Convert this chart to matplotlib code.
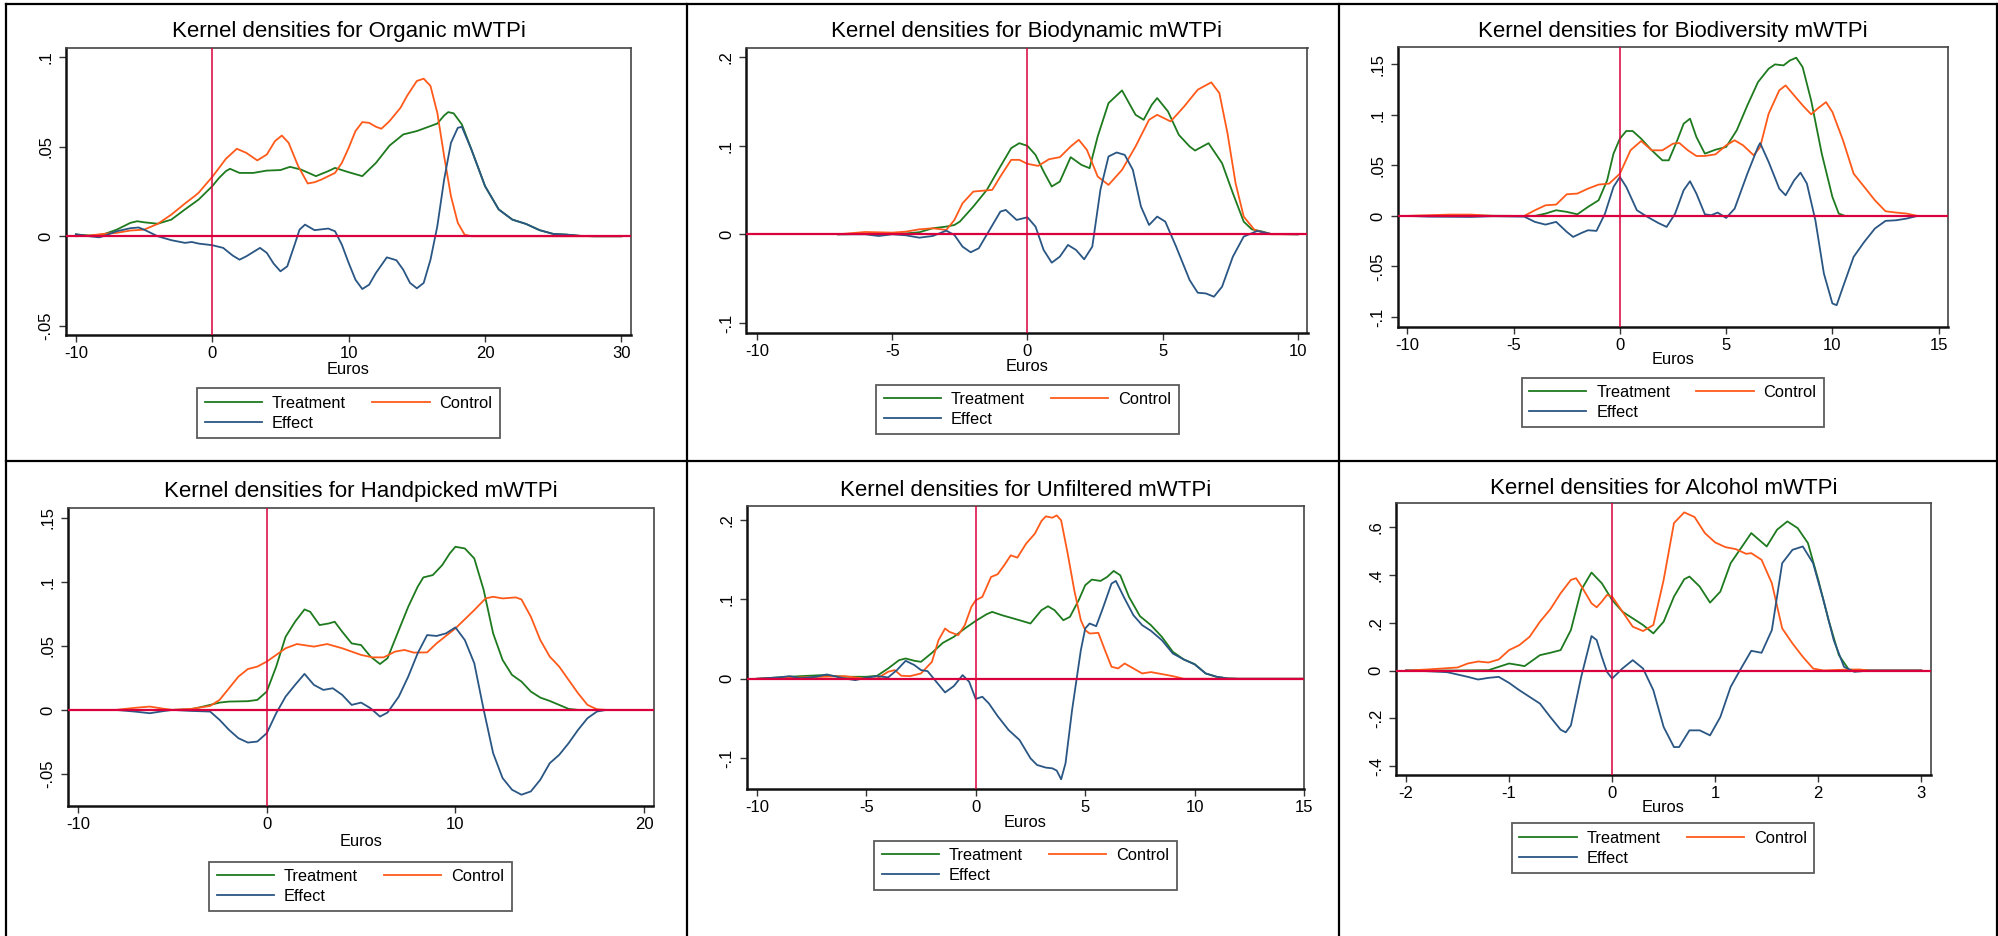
import matplotlib
matplotlib.use('Agg')
import matplotlib.pyplot as plt
from matplotlib.lines import Line2D

plt.rcParams['font.family'] = ['Liberation Sans', 'DejaVu Sans']

# ---------------- data ----------------
series_names = ['Treatment', 'Control', 'Effect']
x_label = 'Euros'

organic_treatment = [(-10,0.001),(-9,0.0004),(-8,0.001),(-7,0.0037),(-6,0.0075),(-5.5,0.0084),(-5,0.0078),(-4,0.007),(-3,0.0093),(-2,0.015),(-1,0.0205),(0,0.028),(0.5,0.0326),(1,0.0364),(1.3,0.0377),(2,0.0354),(3,0.0354),(4,0.0367),(5,0.037),(5.7,0.0388),(6.5,0.0373),(7.6,0.0336),(8.5,0.0364),(9,0.0382),(10,0.0358),(11,0.0336),(12,0.041),(13,0.0507),(14,0.0569),(15,0.0588),(16,0.0616),(16.5,0.063),(17,0.0675),(17.3,0.0694),(17.7,0.0687),(18.3,0.0625),(19,0.0485),(20,0.028),(21,0.015),(22,0.0093),(23,0.0069),(24,0.0034),(25,0.0013),(26,0.0009),(27,0.0002),(28,0),(30,0)]
organic_control = [(-10,0),(-9,0.0004),(-8,0.0013),(-7,0.0019),(-6,0.0032),(-5,0.0037),(-4,0.0069),(-3,0.0121),(-2,0.0183),(-1.3,0.0224),(-1,0.0243),(0,0.0332),(0.5,0.0382),(1,0.0433),(1.8,0.0489),(2.5,0.0466),(3.3,0.0424),(4,0.0457),(4.6,0.0532),(5.1,0.0563),(5.6,0.0522),(6.3,0.0392),(7,0.0295),(7.5,0.0302),(8,0.0317),(9,0.0354),(9.5,0.041),(10,0.0494),(10.5,0.0588),(11,0.0638),(11.5,0.0634),(12,0.0612),(12.4,0.0601),(13,0.0644),(13.8,0.0718),(14.3,0.0787),(15,0.0868),(15.5,0.0881),(16,0.084),(16.5,0.069),(17,0.0448),(17.5,0.0224),(18,0.0075),(18.5,0.0009),(19,0),(30,0)]
organic_effect = [(-10,0.0011),(-9,0),(-8.3,-0.0006),(-8,0),(-7,0.0028),(-6,0.0045),(-5.4,0.0049),(-5,0.0037),(-4,0),(-3,-0.0022),(-2,-0.0037),(-1.5,-0.0032),(-1,-0.0041),(0,-0.005),(0.8,-0.0065),(1.5,-0.0108),(2,-0.0131),(2.5,-0.0112),(3.5,-0.0065),(4,-0.0093),(4.5,-0.0153),(5,-0.0196),(5.5,-0.0168),(6,-0.0056),(6.4,0.0037),(6.8,0.0065),(7.5,0.0034),(8.5,0.0043),(9,0.0028),(9.5,-0.0047),(10,-0.0149),(10.5,-0.0243),(11,-0.0295),(11.5,-0.0271),(12,-0.0205),(12.8,-0.0118),(13.5,-0.0134),(14,-0.0187),(14.5,-0.0261),(15,-0.0291),(15.5,-0.0261),(16,-0.0131),(16.5,0.0056),(17,0.0317),(17.5,0.0522),(18,0.0606),(18.3,0.0612),(19,0.0485),(20,0.028),(21,0.015),(22,0.0093),(23,0.0069),(24,0.0034),(25,0.0013),(26,0.0009),(27,0.0002),(28,0),(30,0)]

biodyn_treatment = [(-7,0),(-6,0.0004),(-5,0.001),(-4.5,0.001),(-4,0.0023),(-3.5,0.0068),(-3,0.0087),(-2.7,0.0105),(-2.5,0.0143),(-2,0.0313),(-1.5,0.0501),(-1,0.0765),(-0.6,0.0972),(-0.3,0.1028),(0,0.0998),(0.3,0.0896),(0.6,0.0708),(0.9,0.0539),(1.2,0.0595),(1.6,0.087),(2,0.0783),(2.3,0.0746),(2.6,0.1104),(3,0.148),(3.5,0.1623),(4,0.1348),(4.3,0.1292),(4.6,0.1461),(4.8,0.1537),(5.2,0.1386),(5.6,0.1122),(6,0.0991),(6.2,0.0945),(6.7,0.1028),(7.2,0.0802),(7.6,0.0463),(8,0.0143),(8.3,0.0056),(8.7,0.003),(9,0.0004),(10,0)]
biodyn_control = [(-7,0),(-6,0.0026),(-5,0.0019),(-4.5,0.003),(-4,0.0056),(-3.5,0.0068),(-3,0.0049),(-2.7,0.0162),(-2.4,0.035),(-2,0.0482),(-1.6,0.0493),(-1.3,0.0501),(-1,0.0652),(-0.6,0.084),(-0.3,0.084),(0,0.0795),(0.4,0.0772),(0.8,0.0847),(1.2,0.087),(1.6,0.0991),(1.9,0.1066),(2.2,0.0953),(2.6,0.0652),(3,0.0557),(3.5,0.0727),(4,0.0991),(4.5,0.1292),(4.8,0.1348),(5.3,0.1273),(5.8,0.1443),(6.3,0.1631),(6.8,0.1714),(7.1,0.1593),(7.4,0.1141),(7.7,0.0576),(8,0.02),(8.4,0.0049),(9,0),(10,0)]
biodyn_effect = [(-7,0),(-6,0),(-5.5,-0.0019),(-5,0),(-4.5,-0.0011),(-4,-0.0038),(-3.5,-0.0019),(-3,0.0041),(-2.7,-0.0008),(-2.4,-0.0139),(-2.1,-0.0203),(-1.8,-0.0158),(-1.4,0.0049),(-1,0.0256),(-0.8,0.0275),(-0.4,0.0162),(0,0.0192),(0.3,0.0087),(0.6,-0.0177),(0.9,-0.032),(1.2,-0.0252),(1.5,-0.012),(1.8,-0.0177),(2.1,-0.0282),(2.4,-0.0139),(2.7,0.0501),(3,0.0878),(3.3,0.0923),(3.6,0.0896),(3.9,0.0727),(4.2,0.0313),(4.5,0.0105),(4.8,0.02),(5.1,0.0143),(5.5,-0.0139),(6,-0.0516),(6.3,-0.0659),(6.6,-0.0667),(6.9,-0.0704),(7.2,-0.0591),(7.6,-0.0252),(8,-0.0026),(8.5,0.0038),(9,0.0004),(10,0)]

biodiv_treatment = [(-10,0),(-7,0.0003),(-5,0),(-4,0),(-3.5,0.0023),(-3,0.0056),(-2.5,0.004),(-2,0.0016),(-1.5,0.0089),(-1,0.0155),(-0.6,0.0352),(-0.3,0.0616),(0,0.0764),(0.3,0.084),(0.6,0.084),(1,0.0764),(1.5,0.0649),(2,0.055),(2.3,0.055),(2.7,0.0748),(3,0.0912),(3.3,0.0962),(3.6,0.0781),(4,0.0616),(4.5,0.0655),(5,0.0682),(5.5,0.0847),(6,0.1094),(6.5,0.1324),(7,0.1456),(7.3,0.1499),(7.7,0.1489),(8,0.1538),(8.3,0.1565),(8.6,0.1472),(9,0.1143),(9.5,0.0616),(10,0.0188),(10.3,0.0023),(10.6,0),(15,0)]
biodiv_control = [(-10,0),(-8,0.0013),(-7,0.0013),(-6,0),(-4.5,0),(-4,0.0056),(-3.5,0.0105),(-3,0.0112),(-2.5,0.0214),(-2,0.0221),(-1.5,0.027),(-1,0.031),(-0.5,0.032),(0,0.0418),(0.5,0.0649),(1,0.0741),(1.5,0.0649),(2,0.0649),(2.5,0.0715),(2.8,0.0721),(3.2,0.0649),(3.6,0.0593),(4,0.0593),(4.5,0.0609),(5,0.0698),(5.4,0.0748),(5.8,0.0698),(6.3,0.0599),(6.6,0.0682),(7,0.1011),(7.5,0.1242),(7.8,0.1291),(8.2,0.1192),(8.6,0.1094),(9,0.1005),(9.3,0.1061),(9.7,0.1126),(10,0.1028),(10.5,0.0748),(11,0.0418),(11.5,0.0287),(12,0.0155),(12.5,0.0046),(13,0.0033),(13.5,0.0023),(14,0),(15,0)]
biodiv_effect = [(-10,0),(-9,-0.0007),(-7,-0.001),(-6,-0.0003),(-4.5,-0.0007),(-4,-0.0059),(-3.5,-0.0086),(-3,-0.0059),(-2.5,-0.0158),(-2.2,-0.0208),(-1.8,-0.0168),(-1.5,-0.0142),(-1.1,-0.0148),(-0.7,0.0023),(-0.3,0.0287),(0,0.0385),(0.3,0.0287),(0.8,0.0056),(1.3,-0.001),(1.8,-0.0069),(2.2,-0.0109),(2.6,0.0023),(3,0.0254),(3.3,0.0343),(3.6,0.0221),(4,0.0016),(4.3,0.0007),(4.6,0.0033),(5,-0.002),(5.4,0.0072),(6,0.0418),(6.5,0.0682),(6.6,0.0721),(7,0.0534),(7.5,0.027),(7.8,0.0204),(8.2,0.0352),(8.5,0.0428),(8.8,0.032),(9.2,-0.0043),(9.6,-0.057),(10,-0.0866),(10.2,-0.0883),(10.5,-0.0702),(11,-0.0405),(11.5,-0.0257),(12,-0.0125),(12.5,-0.0049),(13,-0.0043),(13.5,-0.0026),(14,0),(15,0)]

handp_treatment = [(-10,0),(-6,0),(-5,0),(-4,0.0005),(-3,0.0039),(-2.5,0.0057),(-2,0.0065),(-1,0.0068),(-0.5,0.0078),(0,0.0143),(0.5,0.0338),(1,0.0571),(1.5,0.0688),(2,0.0784),(2.3,0.0766),(2.8,0.0662),(3.3,0.0675),(3.6,0.0688),(4,0.061),(4.5,0.0519),(5,0.0506),(5.5,0.0416),(6,0.0358),(6.4,0.0403),(7,0.0623),(7.5,0.0805),(8,0.0961),(8.3,0.1034),(8.8,0.1052),(9.3,0.113),(9.7,0.1221),(10,0.1273),(10.5,0.126),(11,0.1182),(11.5,0.0935),(12,0.0597),(12.5,0.039),(13,0.0273),(13.5,0.0221),(14,0.0143),(14.5,0.0096),(15,0.007),(15.5,0.0039),(16,0.0008),(16.5,0),(20,0)]
handp_control = [(-10,0),(-8,0),(-7,0.0016),(-6.2,0.0026),(-5.5,0.001),(-5,0),(-4,0.0008),(-3,0.0031),(-2.5,0.0078),(-2,0.0169),(-1.5,0.026),(-1,0.0319),(-0.5,0.0338),(0,0.0377),(0.5,0.0429),(1,0.0481),(1.6,0.0514),(2.5,0.0494),(3.2,0.0514),(4,0.0481),(5,0.0429),(5.6,0.041),(6.2,0.041),(6.8,0.0455),(7.3,0.0468),(7.8,0.0447),(8.5,0.0449),(9,0.0519),(10,0.0636),(11,0.0779),(11.6,0.087),(12,0.0883),(12.5,0.087),(13.2,0.0878),(13.5,0.0862),(14,0.0727),(14.5,0.0545),(15,0.0416),(15.5,0.0338),(16,0.0234),(16.5,0.013),(17,0.0039),(17.5,0.0005),(18,0),(20,0)]
handp_effect = [(-10,0),(-8,0),(-7,-0.0013),(-6.2,-0.0026),(-5.5,-0.001),(-5,0),(-4,-0.0008),(-3,-0.0013),(-2.5,-0.0078),(-2,-0.0156),(-1.5,-0.0221),(-1,-0.0255),(-0.5,-0.0247),(0,-0.0182),(0.5,-0.0026),(1,0.0104),(1.5,0.0195),(2,0.0281),(2.5,0.0195),(3,0.0156),(3.5,0.0169),(4,0.0117),(4.5,0.0039),(5,0.0057),(5.5,0.0013),(6,-0.0052),(6.4,-0.0021),(7,0.0104),(7.5,0.026),(8,0.0442),(8.5,0.0584),(9,0.0577),(9.5,0.0597),(10,0.0644),(10.5,0.0545),(11,0.0364),(11.5,0),(12,-0.0338),(12.5,-0.0532),(13,-0.0623),(13.5,-0.0662),(14,-0.0636),(14.5,-0.0545),(15,-0.0416),(15.5,-0.0351),(16,-0.026),(16.5,-0.0156),(17,-0.0065),(17.5,-0.0013),(18,0),(20,0)]

unfilt_treatment = [(-10,0),(-9,0.0017),(-8,0.0033),(-7,0.0046),(-6,0.0025),(-5,0.0025),(-4.5,0.0038),(-4,0.013),(-3.5,0.0234),(-3.2,0.0255),(-2.8,0.0226),(-2.5,0.0213),(-2,0.0326),(-1.5,0.0452),(-1,0.0527),(-0.5,0.0632),(0,0.0728),(0.5,0.0812),(0.75,0.0841),(1.2,0.0799),(2,0.0736),(2.5,0.0695),(3,0.0862),(3.3,0.0912),(3.6,0.0862),(4,0.0736),(4.3,0.0778),(4.7,0.0987),(5,0.1176),(5.3,0.1247),(5.7,0.123),(6,0.128),(6.3,0.1356),(6.6,0.1301),(7,0.1029),(7.5,0.0787),(8,0.0674),(8.5,0.0527),(9,0.0339),(9.5,0.0243),(10,0.0184),(10.5,0.0067),(11,0.0025),(11.5,0.0004),(12,0),(15,0)]
unfilt_control = [(-10,0),(-8,0.0017),(-7,0.0025),(-6,0.0033),(-5,0),(-4.5,0.0004),(-4,0.0088),(-3.7,0.0109),(-3.4,0.0038),(-3,0.0033),(-2.5,0.0067),(-2,0.0213),(-1.7,0.0485),(-1.4,0.0632),(-1.2,0.059),(-0.8,0.0548),(-0.5,0.0674),(-0.2,0.0904),(0,0.0987),(0.3,0.1029),(0.7,0.128),(1,0.1314),(1.3,0.1427),(1.6,0.1552),(1.9,0.1523),(2.3,0.1699),(2.7,0.1824),(3,0.1983),(3.2,0.2042),(3.5,0.2025),(3.7,0.2054),(3.9,0.1992),(4.2,0.1573),(4.5,0.1113),(4.8,0.0736),(5,0.0611),(5.2,0.0569),(5.6,0.0577),(5.9,0.036),(6.2,0.0151),(6.5,0.013),(6.8,0.0192),(7.2,0.013),(7.6,0.0067),(8,0.0084),(8.5,0.0059),(9,0.0033),(9.5,0),(15,0)]
unfilt_effect = [(-10,0),(-9,0.0017),(-8.5,0.0033),(-8,0.0008),(-7.3,0.0025),(-6.8,0.0054),(-6,0.0004),(-5.5,-0.0017),(-5,0.0013),(-4.5,0.0033),(-4,0.0017),(-3.6,0.0109),(-3.2,0.0226),(-2.8,0.0172),(-2.5,0.0109),(-2.2,0.0096),(-1.8,-0.0038),(-1.4,-0.0172),(-1,-0.0092),(-0.6,0.0046),(-0.3,-0.0038),(0,-0.0255),(0.3,-0.0226),(0.6,-0.031),(1,-0.0469),(1.5,-0.0644),(2,-0.077),(2.5,-0.1),(2.8,-0.1084),(3.2,-0.1117),(3.5,-0.1126),(3.7,-0.1155),(3.9,-0.1264),(4.1,-0.1063),(4.4,-0.0393),(4.8,0.036),(5,0.0632),(5.2,0.0695),(5.5,0.0661),(5.8,0.0883),(6.2,0.1197),(6.4,0.123),(6.8,0.1008),(7.2,0.0799),(7.6,0.0674),(8,0.0603),(8.5,0.0485),(9,0.0318),(9.5,0.0243),(10,0.018),(10.5,0.0067),(11,0.0025),(11.5,0.0004),(12,0),(15,0)]

alcohol_treatment = [(-2,0),(-1.5,0),(-1.2,0.0014),(-1,0.0294),(-0.9,0.0224),(-0.85,0.0182),(-0.7,0.0644),(-0.6,0.0742),(-0.5,0.0854),(-0.4,0.1695),(-0.3,0.3375),(-0.2,0.4104),(-0.1,0.3655),(0,0.2955),(0.1,0.2465),(0.2,0.2185),(0.3,0.1905),(0.4,0.1555),(0.5,0.2045),(0.6,0.3095),(0.7,0.3824),(0.75,0.3936),(0.85,0.3515),(0.95,0.2843),(1.05,0.3305),(1.15,0.4496),(1.25,0.5126),(1.35,0.5756),(1.5,0.5196),(1.6,0.5896),(1.7,0.6246),(1.8,0.5966),(1.9,0.5336),(2,0.3796),(2.1,0.2115),(2.2,0.0644),(2.3,0.0014),(2.4,0.0028),(2.5,0),(3,0)]
alcohol_control = [(-2,0),(-1.8,0.0042),(-1.6,0.0098),(-1.5,0.0126),(-1.4,0.0294),(-1.3,0.0378),(-1.2,0.0336),(-1.1,0.0462),(-1,0.0854),(-0.9,0.1064),(-0.8,0.1415),(-0.7,0.2045),(-0.6,0.2563),(-0.5,0.3235),(-0.4,0.3796),(-0.35,0.3866),(-0.3,0.3543),(-0.2,0.2815),(-0.15,0.2647),(-0.1,0.2885),(-0.05,0.3165),(0,0.3095),(0.1,0.2465),(0.2,0.1835),(0.3,0.1653),(0.4,0.1905),(0.5,0.3796),(0.6,0.6176),(0.7,0.6625),(0.8,0.6429),(0.9,0.5756),(1,0.5364),(1.1,0.5168),(1.2,0.5084),(1.3,0.4888),(1.35,0.4916),(1.45,0.4636),(1.55,0.3655),(1.65,0.1765),(1.75,0.1134),(1.85,0.0574),(1.95,0.0084),(2.05,0),(2.3,0.0042),(2.4,0.0042),(2.5,0),(3,0)]
alcohol_effect = [(-2,0),(-1.8,-0.0028),(-1.6,-0.007),(-1.4,-0.0266),(-1.3,-0.0378),(-1.2,-0.0308),(-1.1,-0.0266),(-1,-0.0518),(-0.9,-0.0826),(-0.8,-0.1106),(-0.7,-0.1387),(-0.6,-0.1947),(-0.5,-0.2479),(-0.45,-0.2591),(-0.4,-0.2297),(-0.3,-0.0266),(-0.2,0.1443),(-0.15,0.1275),(-0.1,0.0574),(-0.05,-0.0056),(0,-0.0336),(0.1,0.0084),(0.2,0.0434),(0.3,0.0084),(0.4,-0.0826),(0.5,-0.2367),(0.6,-0.3207),(0.65,-0.3207),(0.75,-0.2507),(0.85,-0.2507),(0.95,-0.2717),(1.05,-0.1947),(1.15,-0.0686),(1.25,0.0084),(1.35,0.0826),(1.45,0.0742),(1.55,0.1695),(1.65,0.4496),(1.75,0.5056),(1.85,0.5196),(1.95,0.4496),(2.05,0.2955),(2.15,0.1275),(2.25,0.0154),(2.35,-0.0056),(2.5,0),(3,0)]

titles = ['Kernel densities for Organic mWTPi', 'Kernel densities for Biodynamic mWTPi',
          'Kernel densities for Biodiversity mWTPi', 'Kernel densities for Handpicked mWTPi',
          'Kernel densities for Unfiltered mWTPi', 'Kernel densities for Alcohol mWTPi']

xticks_list = [[-10, 0, 10, 20, 30], [-10, -5, 0, 5, 10], [-10, -5, 0, 5, 10, 15],
               [-10, 0, 10, 20], [-10, -5, 0, 5, 10, 15], [-2, -1, 0, 1, 2, 3]]
yticks_list = [[-0.05, 0, 0.05, 0.1], [-0.1, 0, 0.1, 0.2], [-0.1, -0.05, 0, 0.05, 0.1, 0.15],
               [-0.05, 0, 0.05, 0.1, 0.15], [-0.1, 0, 0.1, 0.2], [-0.4, -0.2, 0, 0.2, 0.4, 0.6]]
ytick_labels = [['-.05', '0', '.05', '.1'], ['-.1', '0', '.1', '.2'],
                ['-.1', '-.05', '0', '.05', '.1', '.15'], ['-.05', '0', '.05', '.1', '.15'],
                ['-.1', '0', '.1', '.2'], ['-.4', '-.2', '0', '.2', '.4', '.6']]

series = [
    (organic_treatment, organic_control, organic_effect),
    (biodyn_treatment, biodyn_control, biodyn_effect),
    (biodiv_treatment, biodiv_control, biodiv_effect),
    (handp_treatment, handp_control, handp_effect),
    (unfilt_treatment, unfilt_control, unfilt_effect),
    (alcohol_treatment, alcohol_control, alcohol_effect),
]

# ---------------- layout (pixels in the 1999x936 canvas) ----------------
W, H = 1999, 936
boxes = [(65.9, 47.7, 631, 335), (746.5, 47.7, 1307.5, 332.7), (1397.6, 46.7, 1948.2, 326.7),
         (68.1, 507.7, 653.5, 806), (746.9, 505.7, 1304.2, 789), (1396.3, 503.3, 1930.6, 775)]
xlims = [(-10.73, 30.7), (-10.39, 10.36), (-10.46, 15.45), (-10.53, 20.5), (-10.45, 14.57), (-2.094, 3.09)]
ylims = [(-0.0552, 0.1054), (-0.111, 0.2105), (-0.1096, 0.1674), (-0.075, 0.1578), (-0.1386, 0.2176), (-0.4377, 0.7004)]
title_y = [32, 32, 31.7, 491.7, 490, 488]
xlabel_y = [370, 366.7, 360, 841.7, 822.7, 807.7]
legend_boxes = [(197.7, 387.7, 499.6, 438.7), (877.8, 384, 1177, 435), (1526, 377.7, 1819.6, 427),
                (204, 860.3, 517, 912.7), (877, 840.3, 1174, 890.7), (1520.7, 824.3, 1805.7, 872.3)]

colors = ['#1e7a1e', '#ff5a1a', '#2a5684']
ref_color = '#d9003d'

fig = plt.figure(figsize=(W / 100, H / 100), dpi=100)
fig.patch.set_facecolor('white')

for i in range(6):
    l, t, r, b = boxes[i]
    ax = fig.add_axes([l / W, 1 - b / H, (r - l) / W, (b - t) / H])
    handles = []
    for k, pts in enumerate(series[i]):
        xs = [p[0] for p in pts]
        ys = [p[1] for p in pts]
        h, = ax.plot(xs, ys, color=colors[k], lw=1.3, solid_joinstyle='round', zorder=2 + k * 0.1)
        handles.append(h)
    ax.axhline(0, color=ref_color, lw=1.6, zorder=5)
    ax.axvline(0, color=ref_color, lw=1.1, zorder=5)
    ax.set_xlim(*xlims[i])
    ax.set_ylim(*ylims[i])
    ax.set_xticks(xticks_list[i])
    ax.set_xticklabels([str(v) for v in xticks_list[i]])
    ax.set_yticks(yticks_list[i])
    ax.set_yticklabels(ytick_labels[i], rotation=90, va='center')
    ax.tick_params(axis='both', direction='out', length=5, width=1.0, color='#333333',
                   labelsize=12, labelcolor='black')
    ax.tick_params(axis='x', pad=3)
    ax.tick_params(axis='y', pad=4)
    for side in ['top', 'right']:
        ax.spines[side].set_color('#444444')
        ax.spines[side].set_linewidth(1.2)
    for side in ['left', 'bottom']:
        ax.spines[side].set_color('#111111')
        ax.spines[side].set_linewidth(1.8)

    cx = (l + r) / 2
    fig.text(cx / W, 1 - title_y[i] / H, titles[i], ha='center', va='center', fontsize=16)
    fig.text(cx / W, 1 - xlabel_y[i] / H, x_label, ha='center', va='center', fontsize=11.8)

    ll, lt, lr, lb = legend_boxes[i]
    leg = fig.legend([handles[0], handles[2], handles[1]],
                     [series_names[0], series_names[2], series_names[1]],
                     ncol=2, loc='center',
                     bbox_to_anchor=((ll + lr) / 2 / W, 1 - (lt + lb) / 2 / H),
                     bbox_transform=fig.transFigure, fontsize=11.8,
                     handlelength=3.5, handletextpad=0.6, columnspacing=1.6,
                     labelspacing=0.3, borderpad=0.45, fancybox=False, frameon=True,
                     borderaxespad=0)
    fr = leg.get_frame()
    fr.set_edgecolor('#333333')
    fr.set_linewidth(1.3)
    fr.set_facecolor('white')

# table-cell borders
def hline(y, x0, x1):
    fig.add_artist(Line2D([x0 / W, x1 / W], [1 - y / H, 1 - y / H], transform=fig.transFigure,
                          color='black', lw=1.6))

def vline(x, y0, y1):
    fig.add_artist(Line2D([x / W, x / W], [1 - y0 / H, 1 - y1 / H], transform=fig.transFigure,
                          color='black', lw=1.6))

hline(4, 6, 1997)
hline(461, 6, 1997)
vline(6, 4, 936)
vline(687, 4, 936)
vline(1339, 4, 936)
vline(1997, 4, 936)

fig.savefig('out.png', dpi=100, facecolor='white')
